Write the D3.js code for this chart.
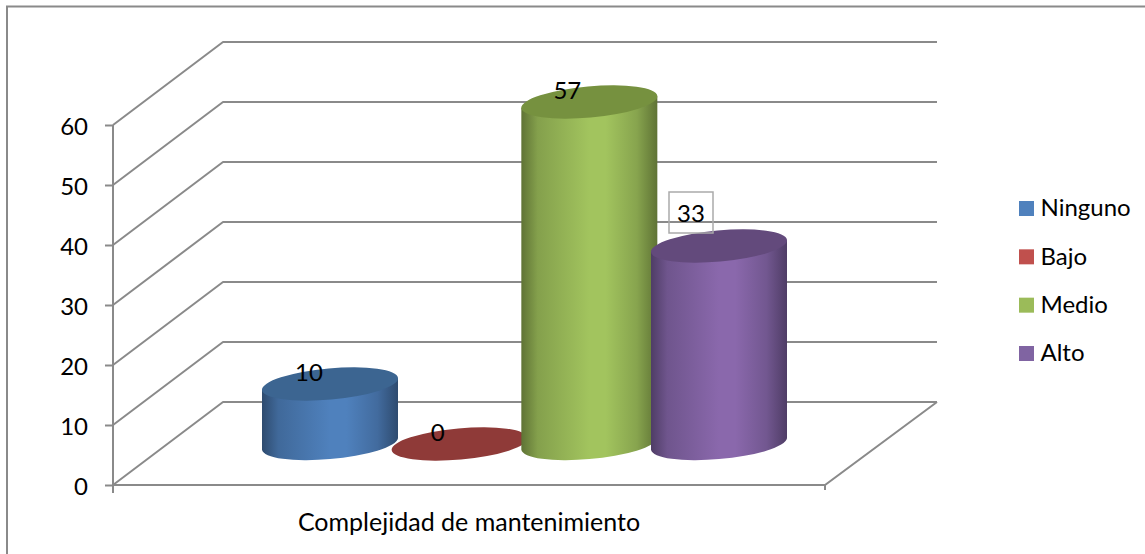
<!DOCTYPE html>
<html><head><meta charset="utf-8">
<script src="https://cdn.jsdelivr.net/npm/d3@7"></script>
<style>html,body{margin:0;padding:0;background:#fff}svg{display:block}text{font-family:Lato,"Noto Sans",sans-serif;fill:#000}</style>
</head><body><svg id="c" width="1145" height="554"></svg>
<script>
const seriesNames=["Ninguno","Bajo","Medio","Alto"];
const seriesValues=[10,0,57,33];
const axisTicks=[0,10,20,30,40,50,60];
const categoryLabel="Complejidad de mantenimiento";
const sideColors=["#4F81BD","#C0504D","#A2C45E","#8A68AC"];
const edgeColors=["#2E4B6F","#71302E","#5F7335","#4F3D66"];
const capColors=["#3C6591","#8F3A38","#76913F","#634A7C"];
const legendColors=["#4F81BD","#C0504D","#9BBB59","#8064A2"];

const W=1145,H=554,svg=d3.select("#c");
const grey="#8A8A8A",sw=2;
const y=d3.scaleLinear().domain([0,60]).range([485,125]);
const depthX=110,depthY=-83,leftX=113,frontRight=825,backRight=937;
const x=d3.scalePoint().domain(seriesNames).range([330,719]);
const baseOffset=41; // front floor edge to cylinder base centre
const h=v=>y(0)-y(v);
const a=68.3,b=15.6,tilt=-5.14,hw=68,sh=5.8;

svg.append("path").attr("d",`M7,${H}V6.5H${W}`).attr("fill","none").attr("stroke",grey).attr("stroke-width",2);

const g=svg.append("g").attr("fill","none").attr("stroke",grey);
axisTicks.forEach(t=>{
  g.append("path").attr("stroke-width",sw).attr("stroke-linejoin","round")
   .attr("d",d3.line()([[leftX,y(t)],[leftX+depthX,y(t)+depthY],[backRight,y(t)+depthY]]));
});
g.append("path").attr("stroke-width",sw).attr("d",d3.line()([[leftX,y(0)],[frontRight,y(0)],[backRight,y(0)+depthY]]));

const axis=d3.axisLeft(y).tickValues(axisTicks).tickSize(8).tickPadding(17).tickSizeOuter(0);
const ag=svg.append("g").attr("transform",`translate(${leftX},0)`).call(axis);
ag.select(".domain").attr("stroke",grey).attr("stroke-width",sw).attr("d",`M0,${y(60)}V493`);
ag.selectAll(".tick line").attr("stroke",grey).attr("stroke-width",sw);
ag.selectAll(".tick text").attr("font-size",24).attr("font-family","Lato").attr("dy","0.38em");
svg.append("line").attr("x1",frontRight).attr("x2",frontRight).attr("y1",y(0)).attr("y2",490).attr("stroke",grey).attr("stroke-width",sw);

const defs=svg.append("defs");
seriesNames.forEach((n,i)=>{
  const lg=defs.append("linearGradient").attr("id","g"+i);
  [[0,edgeColors[i]],[.12,d3.interpolateRgb(edgeColors[i],sideColors[i])(.55)],[.5,sideColors[i]],[.62,sideColors[i]],[.85,d3.interpolateRgb(edgeColors[i],sideColors[i])(.6)],[1,edgeColors[i]]]
   .forEach(s=>lg.append("stop").attr("offset",s[0]).attr("stop-color",s[1]));
});
const bars=svg.append("g");
seriesNames.forEach((n,i)=>{
  const v=seriesValues[i],cx=x(n),by=y(0)-baseOffset,ty=by-h(v);
  if(v>0){
    bars.append("path").attr("fill",`url(#g${i})`)
     .attr("d",`M${cx-hw},${ty+sh}L${cx-hw},${by+sh}A${a},${b} ${tilt} 0 0 ${cx+hw},${by-sh}L${cx+hw},${ty-sh}Z`);
  }
  bars.append("ellipse").attr("cx",0).attr("cy",0).attr("rx",a).attr("ry",b)
   .attr("transform",`translate(${cx},${ty}) rotate(${tilt})`).attr("fill",capColors[i]);
});

const labelDx=[-21,-22,-22,-28],labelDy=[-11,-11,-11,-33];
seriesNames.forEach((n,i)=>{
  const lx=x(n)+labelDx[i],ly=y(0)-baseOffset-h(seriesValues[i])+labelDy[i];
  if(i===3) svg.append("rect").attr("x",lx-22).attr("y",ly-21).attr("width",44).attr("height",41).attr("fill","none").attr("stroke","#AAAAAA").attr("stroke-width",1.5);
  svg.append("text").attr("x",lx).attr("y",ly).attr("dy",i===3?"0.38em":"0.34em").attr("text-anchor","middle").attr("font-size",24).text(seriesValues[i]);
});

svg.append("text").attr("x",469).attr("y",521).attr("dy","0.38em").attr("text-anchor","middle").attr("font-size",25).text(categoryLabel);

const ly=d3.scalePoint().domain(seriesNames).range([208.5,353.5]);
seriesNames.forEach((n,i)=>{
  svg.append("rect").attr("x",1019).attr("y",ly(n)-7.5).attr("width",15).attr("height",15).attr("fill",legendColors[i]);
  svg.append("text").attr("x",1040.5).attr("y",ly(n)).attr("dy","0.33em").attr("font-size",24).text(n);
});
</script></body></html>
